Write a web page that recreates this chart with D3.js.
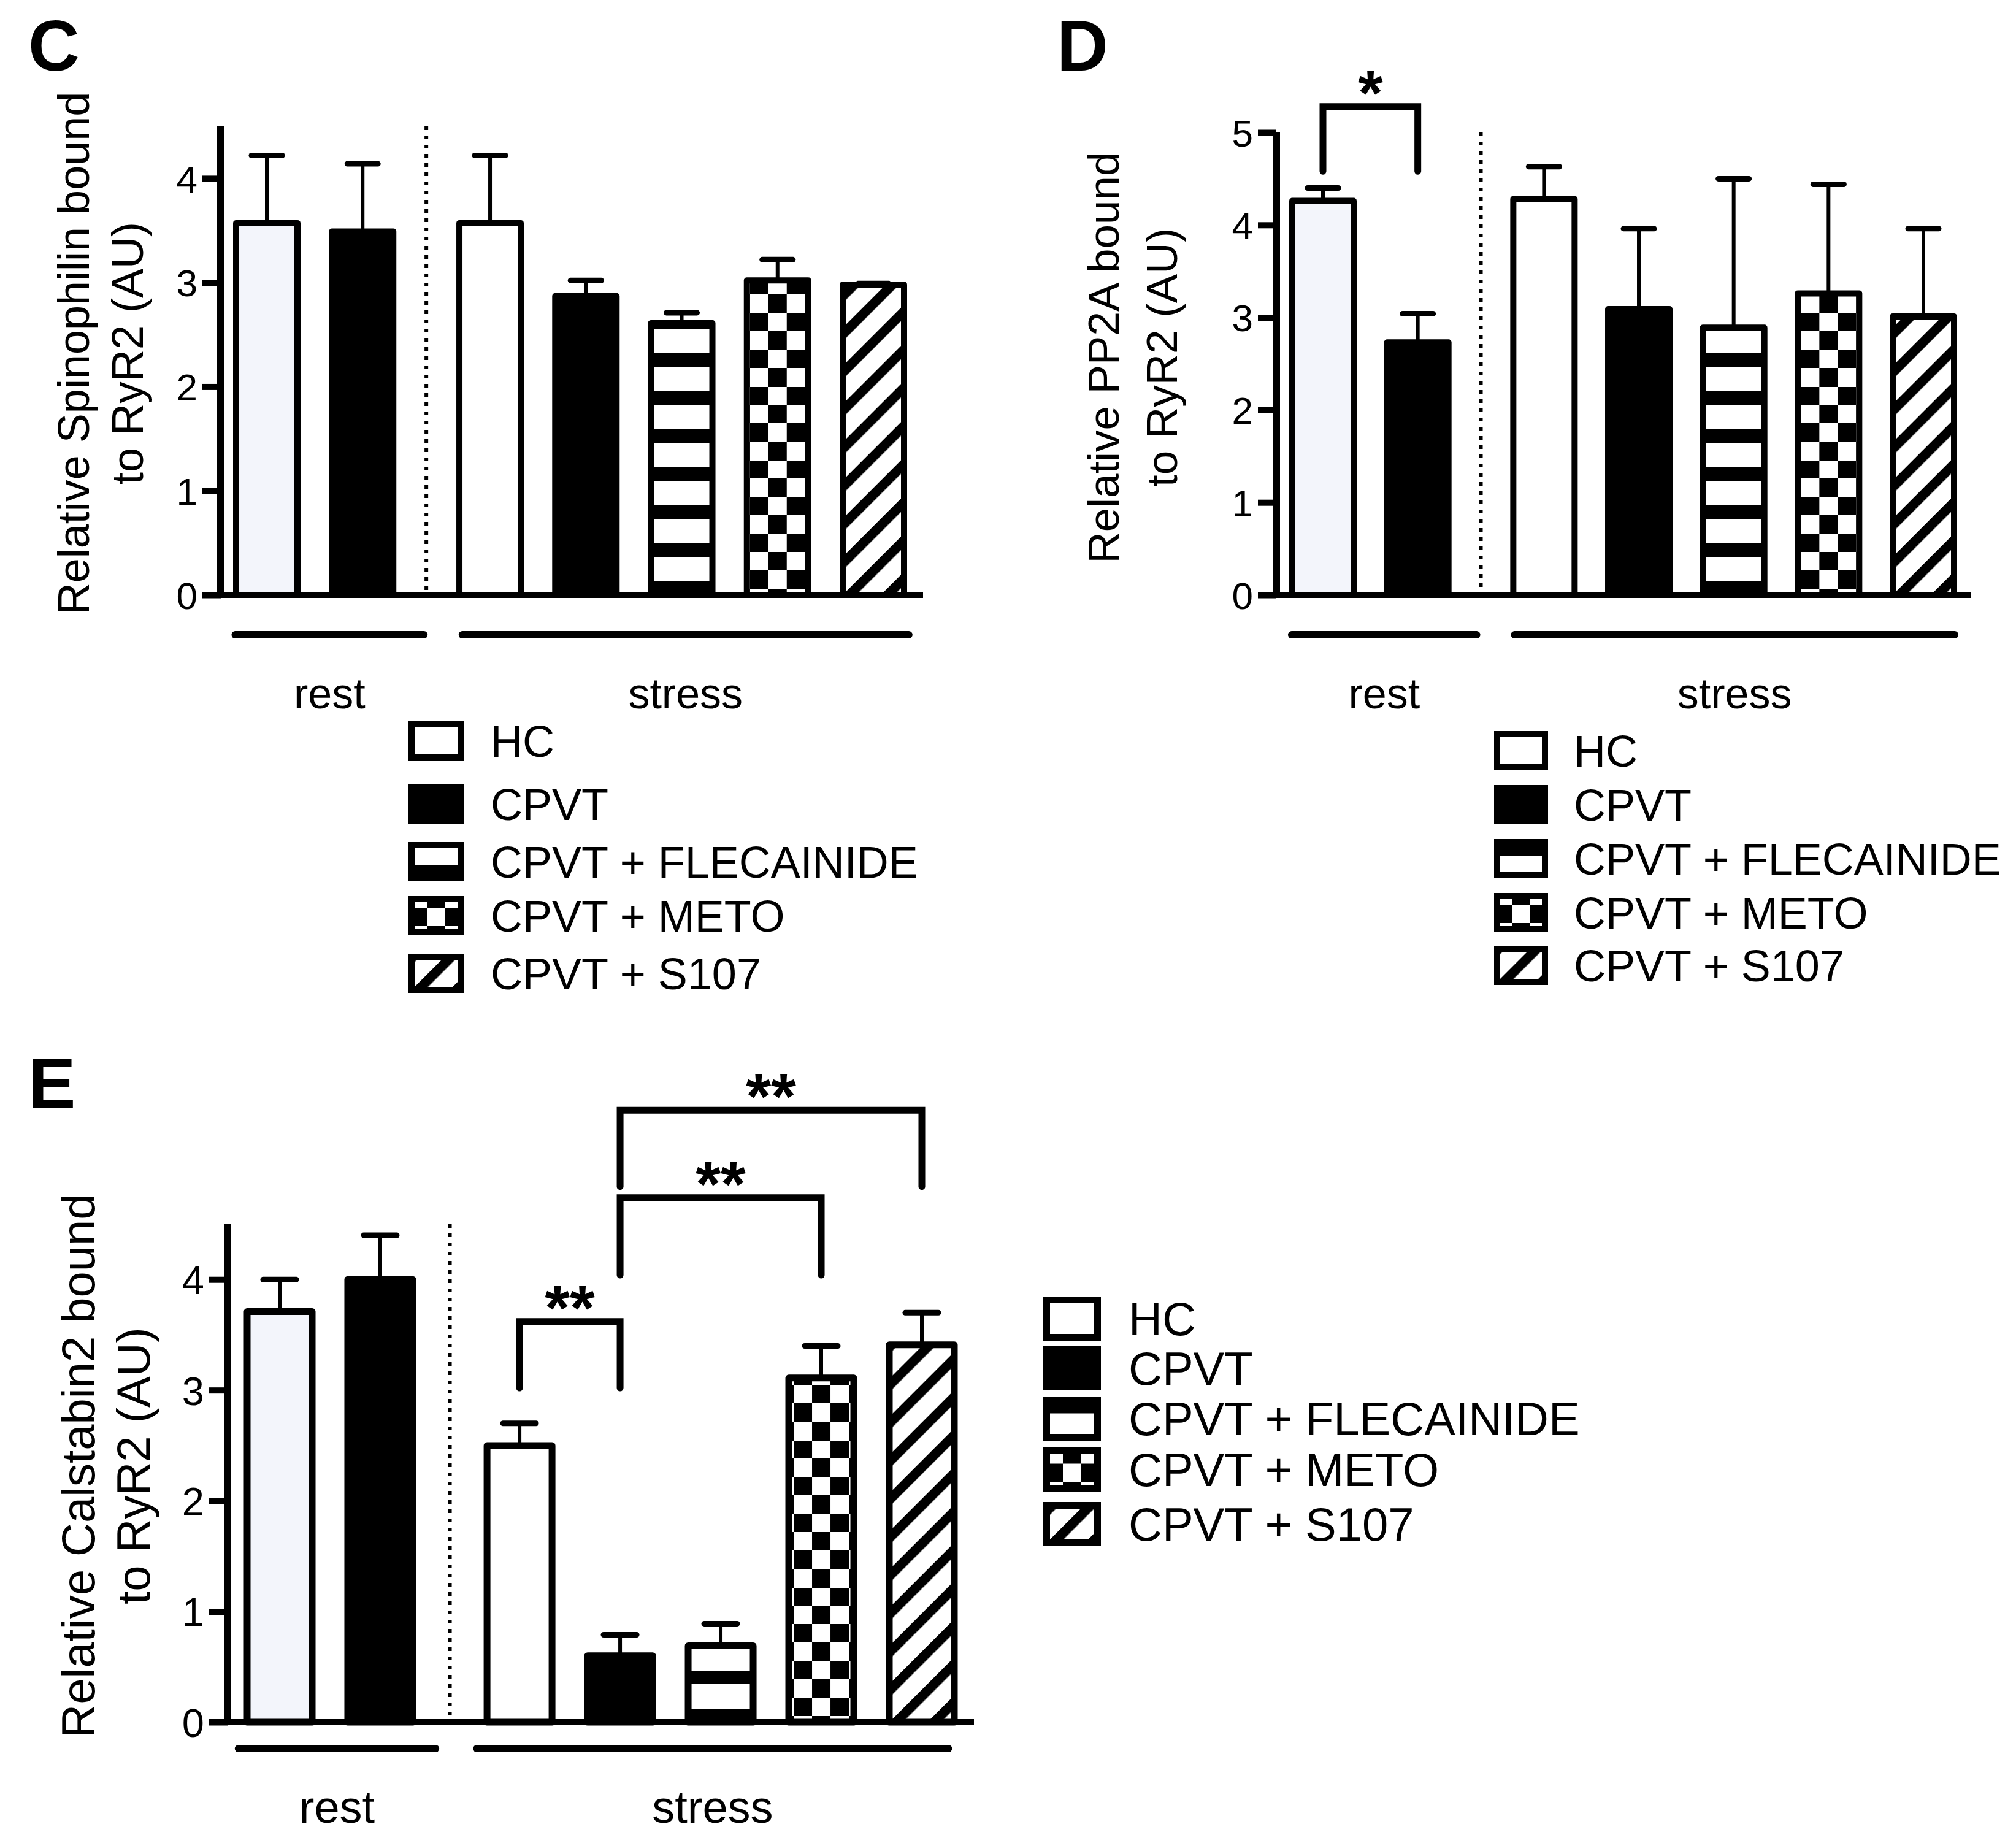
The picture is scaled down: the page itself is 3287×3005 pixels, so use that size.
<!DOCTYPE html>
<html>
<head>
<meta charset="utf-8">
<script src="https://cdn.jsdelivr.net/npm/d3@7"></script>
<style>
  body { margin: 0; background: #fff; }
  svg { display: block; }
  text { font-family: "Liberation Sans", Arial, Helvetica, sans-serif; fill: #000; }
</style>
</head>
<body>
<svg id="fig" width="3287" height="3005"></svg>
<script>
// ---- data ----
const groups = ["rest", "stress"];
const conditions = ["HC", "CPVT", "CPVT + FLECAINIDE", "CPVT + METO", "CPVT + S107"];
// bars from left to right
const barGroup = ["rest", "rest", "stress", "stress", "stress", "stress", "stress"];
const barCondition = ["HC", "CPVT", "HC", "CPVT", "CPVT + FLECAINIDE", "CPVT + METO", "CPVT + S107"];

// C: spinophilin
const spinophilinMean = [3.57, 3.49, 3.57, 2.87, 2.61, 3.02, 2.98];
const spinophilinSem  = [0.65, 0.65, 0.65, 0.15, 0.10, 0.20, 0.01];
const spinophilinTicks = [0, 1, 2, 3, 4];

// D: PP2A
const pp2aMean = [4.26, 2.73, 4.28, 3.09, 2.89, 3.26, 3.01];
const pp2aSem  = [0.14, 0.31, 0.35, 0.87, 1.61, 1.18, 0.95];
const pp2aTicks = [0, 1, 2, 3, 4, 5];
const pp2aSig = [{ a: 0, b: 1, top: 5.28, leg: 4.58, label: "*" }];

// E: calstabin2
const calstabinMean = [3.71, 4.00, 2.50, 0.60, 0.69, 3.11, 3.41];
const calstabinSem  = [0.29, 0.40, 0.20, 0.19, 0.20, 0.29, 0.29];
const calstabinTicks = [0, 1, 2, 3, 4];
const calstabinSig = [
  { a: 2, b: 3, top: 3.62, leg: 3.02, label: "**" },
  { a: 3, b: 5, top: 4.74, leg: 4.04, label: "**" },
  { a: 3, b: 6, top: 5.53, leg: 4.84, label: "**" }
];

// ---- layout (pixels) ----
const panelC = {
  id: "C", letterX: 46, letterY: 115,
  title: ["Relative Spinophilin bound", "to RyR2 (AU)"], titleX: 145, titleY: 576, titleGap: 88, titleSize: 72,
  axisX: 360, axisEnd: 1505, baseY: 970, yMax: 4.5, topY: 206,
  firstX: 435, lastX: 1424, gap: 1.33, barW: 100, stroke: 10, capW: 58, tickSize: 62,
  restSpan: [-0.33, 1.64], stressSpan: [2.04, 6.70], lineY: 1035, labelY: 1155, labelSize: 70,
  legX: 666, legW: 90, legH: 64, legRows: [1208, 1311, 1405, 1493, 1587], legTextX: 800, legSize: 72, stripeTop: false
};
const panelD = {
  id: "D", letterX: 1723, letterY: 115,
  title: ["Relative PP2A bound", "to RyR2 (AU)"], titleX: 1824, titleY: 583, titleGap: 95, titleSize: 71,
  axisX: 2081, axisEnd: 3213, baseY: 970, yMax: 5, topY: 216,
  firstX: 2157, lastX: 3136, gap: 1.33, barW: 100, stroke: 10, capW: 58, tickSize: 62,
  restSpan: [-0.33, 1.62], stressSpan: [2.02, 6.66], lineY: 1035, labelY: 1155, labelSize: 70,
  legX: 2436, legW: 88, legH: 64, legRows: [1224, 1312, 1400, 1488, 1574], legTextX: 2566, legSize: 72, stripeTop: true
};
const panelE = {
  id: "E", letterX: 46, letterY: 1807,
  title: ["Relative Calstabin2 bound", "to RyR2 (AU)"], titleX: 154, titleY: 2390, titleGap: 90, titleSize: 76,
  axisX: 371, axisEnd: 1588, baseY: 2808, yMax: 4.5, topY: 1996,
  firstX: 456, lastX: 1503, gap: 1.385, barW: 106, stroke: 11, capW: 62, tickSize: 65,
  restSpan: [-0.41, 1.55], stressSpan: [1.96, 6.65], lineY: 2851, labelY: 2972, labelSize: 74,
  legX: 1701, legW: 94, legH: 72, legRows: [2150, 2231, 2313, 2396, 2485], legTextX: 1840, legSize: 76, stripeTop: true
};

const svg = d3.select("#fig");
svg.append("rect").attr("width", 3287).attr("height", 3005).attr("fill", "#fff");
const defs = svg.append("defs");
const lightFill = "#f3f5fb";

/* fill patterns; each one gets its own origin so stripes line up with the bar */
function stripePattern(id, oy) {
  const p = defs.append("pattern").attr("id", id)
    .attr("patternUnits", "userSpaceOnUse").attr("width", 20).attr("height", 62)
    .attr("patternTransform", `translate(0,${oy})`);
  p.append("rect").attr("width", 20).attr("height", 62).attr("fill", "#fff");
  p.append("rect").attr("y", 40).attr("width", 20).attr("height", 22).attr("fill", "#000");
  return `url(#${id})`;
}
function checkerPattern(id, ox, oy) {
  const p = defs.append("pattern").attr("id", id)
    .attr("patternUnits", "userSpaceOnUse").attr("width", 60).attr("height", 60)
    .attr("patternTransform", `translate(${ox},${oy})`);
  p.append("rect").attr("width", 60).attr("height", 60).attr("fill", "#fff");
  p.append("rect").attr("width", 30).attr("height", 30).attr("fill", "#000");
  p.append("rect").attr("x", 30).attr("y", 30).attr("width", 30).attr("height", 30).attr("fill", "#000");
  return `url(#${id})`;
}
function hatchPattern(id, ox, oy) {
  const p = defs.append("pattern").attr("id", id)
    .attr("patternUnits", "userSpaceOnUse").attr("width", 44).attr("height", 20)
    .attr("patternTransform", `translate(${ox},${oy}) rotate(45)`);
  p.append("rect").attr("width", 44).attr("height", 20).attr("fill", "#fff");
  p.append("rect").attr("width", 15.5).attr("height", 20).attr("fill", "#000");
  return `url(#${id})`;
}

function fillFor(cond, group, id, box) {
  // box: {x, y, w, h, base} of the shape to fill
  if (cond === "HC") return group === "rest" ? lightFill : "#fff";
  if (cond === "CPVT") return "#000";
  if (cond === "CPVT + FLECAINIDE") return stripePattern(id + "-s", box.stripeY);
  if (cond === "CPVT + METO") return checkerPattern(id + "-c", box.x + box.w / 2 - 45, box.base - 40);
  return hatchPattern(id + "-h", box.x, box.base);
}

function drawPanel(cfg, means, sems, ticks, sig) {
  const g = svg.append("g").attr("class", "panel-" + cfg.id);

  const y = d3.scaleLinear().domain([0, cfg.yMax]).range([cfg.baseY, cfg.topY]);
  const slot = i => (i < 2 ? i : i - 1 + cfg.gap);
  const x = d3.scaleLinear().domain([0, 5 + cfg.gap]).range([cfg.firstX, cfg.lastX]);

  // panel letter
  g.append("text").attr("x", cfg.letterX).attr("y", cfg.letterY)
    .attr("font-size", 116).attr("font-weight", "bold").text(cfg.id);

  // y title
  const t = g.append("g").attr("transform", `translate(${cfg.titleX},${cfg.titleY}) rotate(-90)`);
  cfg.title.forEach((line, k) => {
    t.append("text").attr("x", 0).attr("y", k * cfg.titleGap)
      .attr("text-anchor", "middle").attr("font-size", cfg.titleSize).text(line);
  });

  // bars
  const data = means.map((m, i) => ({ i, m, e: sems[i], group: barGroup[i], cond: barCondition[i] }));
  const half = cfg.barW / 2;

  // error bars (upper only)
  const err = g.append("g").attr("class", "errors");
  err.selectAll("line.stem").data(data).enter().append("line")
    .attr("x1", d => x(slot(d.i))).attr("x2", d => x(slot(d.i)))
    .attr("y1", d => y(d.m)).attr("y2", d => y(d.m + d.e))
    .attr("stroke", "#000").attr("stroke-width", 6);
  err.selectAll("line.cap").data(data).enter().append("line")
    .attr("x1", d => x(slot(d.i)) - cfg.capW / 2 + 4).attr("x2", d => x(slot(d.i)) + cfg.capW / 2 - 4)
    .attr("y1", d => y(d.m + d.e)).attr("y2", d => y(d.m + d.e))
    .attr("stroke", "#000").attr("stroke-width", 9).attr("stroke-linecap", "round");

  g.append("g").attr("class", "bars").selectAll("rect").data(data).enter().append("rect")
    .attr("x", d => x(slot(d.i)) - half)
    .attr("y", d => y(d.m))
    .attr("width", cfg.barW)
    .attr("height", d => y(0) - y(d.m))
    .attr("fill", d => fillFor(d.cond, d.group, `bar-${cfg.id}-${d.i}`,
      { x: x(slot(d.i)) - half, w: cfg.barW, base: y(0), stripeY: y(0) }))
    .attr("stroke", "#000").attr("stroke-width", cfg.stroke).attr("stroke-linejoin", "round");

  // dotted separator between rest and stress
  const sepX = x(1 + cfg.gap / 2);
  g.append("line").attr("x1", sepX).attr("x2", sepX)
    .attr("y1", y(cfg.yMax)).attr("y2", y(0))
    .attr("stroke", "#000").attr("stroke-width", 6).attr("stroke-dasharray", "6 9");

  // axes
  g.append("line").attr("x1", cfg.axisX).attr("x2", cfg.axisX)
    .attr("y1", y(cfg.yMax)).attr("y2", y(0) + 5)
    .attr("stroke", "#000").attr("stroke-width", 12);
  g.append("line").attr("x1", cfg.axisX - 30).attr("x2", cfg.axisEnd)
    .attr("y1", y(0)).attr("y2", y(0))
    .attr("stroke", "#000").attr("stroke-width", 10);
  const yAxis = d3.axisLeft(y).tickValues(ticks).tickSize(30).tickPadding(8).tickFormat(d3.format("d"));
  const ax = g.append("g").attr("transform", `translate(${cfg.axisX},0)`).call(yAxis);
  ax.select(".domain").remove();
  ax.selectAll(".tick line").attr("stroke", "#000").attr("stroke-width", 10);
  ax.selectAll(".tick text").attr("font-size", cfg.tickSize).attr("fill", "#000")
    .attr("font-family", '"Liberation Sans", Arial, sans-serif').attr("dy", "0.36em");

  // group underlines and labels
  const spans = { rest: cfg.restSpan, stress: cfg.stressSpan };
  groups.forEach(gr => {
    const [a, b] = spans[gr];
    g.append("line").attr("x1", x(a)).attr("x2", x(b))
      .attr("y1", cfg.lineY).attr("y2", cfg.lineY)
      .attr("stroke", "#000").attr("stroke-width", 12).attr("stroke-linecap", "round");
    g.append("text").attr("x", (x(a) + x(b)) / 2).attr("y", cfg.labelY)
      .attr("text-anchor", "middle").attr("font-size", cfg.labelSize).text(gr);
  });

  // significance brackets
  (sig || []).forEach(s => {
    const xa = x(slot(s.a)), xb = x(slot(s.b));
    g.append("path")
      .attr("d", `M${xa},${y(s.leg)}V${y(s.top)}H${xb}V${y(s.leg)}`)
      .attr("fill", "none").attr("stroke", "#000").attr("stroke-width", 11)
      .attr("stroke-linecap", "round").attr("stroke-linejoin", "miter");
    g.append("text").attr("x", (xa + xb) / 2).attr("y", y(s.top) + 14)
      .attr("text-anchor", "middle").attr("font-size", 105).attr("font-weight", "bold").text(s.label);
  });

  // legend
  const leg = g.append("g").attr("class", "legend");
  conditions.forEach((c, k) => {
    const cy = cfg.legRows[k];
    const bx = cfg.legX + cfg.stroke / 2, by = cy - cfg.legH / 2 + cfg.stroke / 2;
    const bw = cfg.legW - cfg.stroke, bh = cfg.legH - cfg.stroke;
    const box = { x: bx, w: bw, base: by + bh, stripeY: cfg.stripeTop ? by - 40 : by + bh };
    leg.append("rect").attr("x", bx).attr("y", by).attr("width", bw).attr("height", bh)
      .attr("fill", fillFor(c, "stress", `leg-${cfg.id}-${k}`, box))
      .attr("stroke", "#000").attr("stroke-width", cfg.stroke);
    leg.append("text").attr("x", cfg.legTextX).attr("y", cy + cfg.legSize * 0.36)
      .attr("font-size", cfg.legSize).text(c);
  });
}

drawPanel(panelC, spinophilinMean, spinophilinSem, spinophilinTicks, []);
drawPanel(panelD, pp2aMean, pp2aSem, pp2aTicks, pp2aSig);
drawPanel(panelE, calstabinMean, calstabinSem, calstabinTicks, calstabinSig);
</script>
</body>
</html>
